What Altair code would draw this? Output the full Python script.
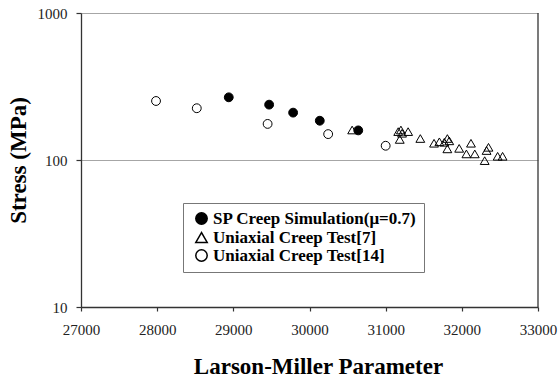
import altair as alt
import pandas as pd

# Series values
sp_lmp = [28940, 29470, 29785, 30135, 30640]
sp_stress = [267, 238, 210, 185, 159]

t7_lmp = [30560, 31165, 31200, 31215, 31295, 31185, 31455, 31635, 31705, 31770,
          31810, 31835, 31810, 31965, 32060, 32120, 32170, 32300, 32325, 32350,
          32470, 32535]
t7_stress = [160, 156, 160, 152, 156, 138, 140, 130, 133, 132,
             140, 135, 119, 120, 110, 130, 110, 99, 116, 122,
             106, 106]

t14_lmp = [27985, 28520, 29450, 30245, 31000]
t14_stress = [252, 225, 176, 150, 125]

series_names = ["SP Creep Simulation(\u03bc=0.7)", "Uniaxial Creep Test[7]", "Uniaxial Creep Test[14]"]
x_ticks = [27000, 28000, 29000, 30000, 31000, 32000, 33000]
y_ticks = [10, 100, 1000]

rows = []
for name, xs, ys in zip(series_names, [sp_lmp, t7_lmp, t14_lmp], [sp_stress, t7_stress, t14_stress]):
    for a, b in zip(xs, ys):
        rows.append({"series": name, "lmp": a, "stress": b})
df = pd.DataFrame(rows)

W, H = 457, 294
serif = "Liberation Serif"

legend = alt.Legend(
    title=None, orient="none", legendX=102, legendY=190,
    labelFont=serif, labelFontWeight="bold", labelFontSize=17, labelColor="#000",
    labelLimit=0,
    symbolSize=130, symbolStrokeColor="#000", symbolStrokeWidth=1.5,
    symbolOffset=3, labelOffset=3, rowPadding=0, padding=7,
    strokeColor="#777", fillColor="white",
)

points = alt.Chart(df).mark_point(size=78, strokeWidth=1, opacity=1).encode(
    x=alt.X("lmp:Q", scale=alt.Scale(domain=[27000, 33000], nice=False, zero=False),
            axis=alt.Axis(values=x_ticks, format="d", grid=False, title="Larson-Miller Parameter",
                          labelFlush=False, tickSize=4, labelPadding=11,
                          titleY=59, titleX=237, titleBaseline="middle")),
    y=alt.Y("stress:Q", scale=alt.Scale(type="log", domain=[10, 1000], nice=False),
            axis=alt.Axis(values=y_ticks, format="d", grid=True, title="Stress (MPa)",
                          labelFlush=False, tickSize=5, labelPadding=9, titleX=-63, titleY=H / 2,
                          titleBaseline="middle", titleAngle=-90)),
    shape=alt.Shape("series:N", scale=alt.Scale(domain=series_names,
                                                range=["circle", "triangle-up", "circle"]), legend=legend),
    fill=alt.Fill("series:N", scale=alt.Scale(domain=series_names,
                                              range=["black", "transparent", "transparent"]), legend=legend),
    stroke=alt.Stroke("series:N", scale=alt.Scale(domain=series_names,
                                                  range=["black", "black", "black"]), legend=legend),
)

border = alt.Chart(pd.DataFrame({"v": [0]})).mark_rule(color="#333", strokeWidth=1.3).encode(
    x=alt.value(W), y=alt.value(0), y2=alt.value(H)
)

chart = alt.layer(points, border).properties(
    width=W, height=H,
    autosize=alt.AutoSizeParams(type="none"),
    padding={"left": 81, "top": 13, "right": 20, "bottom": 70},
    background="white",
).configure_view(stroke=None).configure_axis(
    labelFont=serif, labelFontSize=15, labelColor="#222",
    titleFont=serif, titleFontWeight="bold", titleFontSize=23, titleColor="#000",
    domainColor="#333", domainWidth=1.3, tickColor="#333", tickWidth=1.2,
    gridColor="#a6a6a6", gridWidth=1,
)

chart.save("out.html", embed_options={"renderer": "svg", "actions": False})
